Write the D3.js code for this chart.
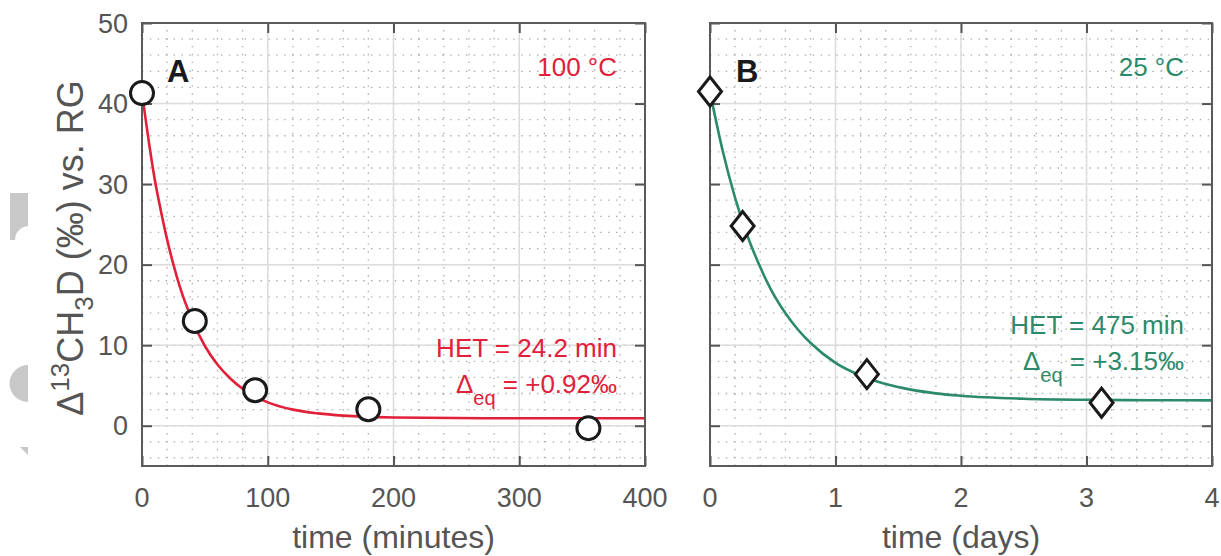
<!DOCTYPE html>
<html>
<head>
<meta charset="utf-8">
<title>Clumped isotope equilibration</title>
<script src="https://d3js.org/d3.v7.min.js"></script>
<style>
  html, body { margin: 0; padding: 0; background: #fff; }
  svg { display: block; font-family: "Liberation Sans", Arial, sans-serif; }
</style>
</head>
<body>
<svg id="chart" width="1221" height="556"></svg>
<script>
// panel A : 100 C, minutes
const timeA = [0, 42, 90, 180, 355];
const valA = [41.3, 13.0, 4.4, 2.05, -0.3];
const fitTimeA = [0, 5, 10, 15, 20, 25, 30, 40, 50, 60, 70, 80, 100, 120, 140, 160, 200, 250, 300, 400];
const fitValA = [41.3, 35.7, 30.7, 26.7, 23.1, 20.0, 17.3, 13.1, 9.9, 7.6, 5.9, 4.6, 2.9, 2.0, 1.53, 1.25, 1.02, 0.95, 0.93, 0.92];

// panel B : 25 C, days
const timeB = [0, 0.26, 1.25, 3.12];
const valB = [41.5, 24.8, 6.4, 2.85];
const fitTimeB = [0, 0.1, 0.2, 0.3, 0.4, 0.5, 0.6, 0.7, 0.8, 1.0, 1.2, 1.4, 1.6, 1.8, 2.0, 2.5, 3.0, 3.5, 4.0];
const fitValB = [41.45, 34.2, 28.3, 23.5, 19.7, 16.5, 14.0, 11.95, 10.3, 7.8, 6.23, 5.17, 4.48, 4.02, 3.72, 3.35, 3.22, 3.17, 3.15];

const yTicks = [0, 10, 20, 30, 40, 50];
const xTicksA = [0, 100, 200, 300, 400];
const xTicksB = [0, 1, 2, 3, 4];

const red = "#e1203a", green = "#2b8a69", ink = "#555";
const svg = d3.select("#chart");

// stray grey marks on the left edge of the scan
const edge = svg.append("g").attr("fill", "#c8c8c8");
edge.append("path").attr("d", "M10,193H28V226A14,14 0 0 0 15,240H10Z");
edge.append("path").attr("d", "M28,365A18.5,18.5 0 0 0 28,402Z");
edge.append("path").attr("d", "M20,447H28V455Z");

const y = d3.scaleLinear().domain([-5, 50]).range([466, 23]);

function panel(opts) {
  const x = d3.scaleLinear().domain(opts.domain).range(opts.range);
  const g = svg.append("g");
  const [x0, x1] = opts.range;

  // minor dotted grid
  g.append("g").selectAll("line").data(d3.range(opts.domain[0], opts.domain[1] + 1e-9, opts.minor))
    .join("line")
    .attr("x1", d => x(d)).attr("x2", d => x(d)).attr("y1", y(-5)).attr("y2", y(50))
    .attr("stroke", "#ababab").attr("stroke-width", 1.3).attr("stroke-dasharray", "1.4,6.5");
  g.append("g").selectAll("line").data(d3.range(-4, 50, 2))
    .join("line")
    .attr("x1", x0).attr("x2", x1).attr("y1", d => y(d)).attr("y2", d => y(d))
    .attr("stroke", "#ababab").attr("stroke-width", 1.3).attr("stroke-dasharray", "1.4,6.5");

  // major grid
  g.append("g").selectAll("line").data(opts.ticks)
    .join("line")
    .attr("x1", d => x(d)).attr("x2", d => x(d)).attr("y1", y(-5)).attr("y2", y(50))
    .attr("stroke", "#dcdcdc").attr("stroke-width", 1.5);
  g.append("g").selectAll("line").data(yTicks)
    .join("line")
    .attr("x1", x0).attr("x2", x1).attr("y1", d => y(d)).attr("y2", d => y(d))
    .attr("stroke", "#dcdcdc").attr("stroke-width", 1.5);

  // fitted curve
  const pts = opts.fitT.map((t, i) => [t, opts.fitV[i]]);
  g.append("path").datum(pts)
    .attr("fill", "none").attr("stroke", opts.color).attr("stroke-width", 2.6)
    .attr("d", d3.line().x(d => x(d[0])).y(d => y(d[1])).curve(d3.curveMonotoneX));

  // axes with inward ticks on all four sides
  const axis = (gen, tr) => g.append("g").attr("transform", tr).call(gen)
    .call(a => a.select(".domain").remove())
    .call(a => a.selectAll("line").attr("stroke", "#555").attr("stroke-width", 2))
    .call(a => a.selectAll("text").remove());
  axis(d3.axisBottom(x).tickValues(opts.ticks).tickSize(-10), `translate(0,${y(-5)})`);
  axis(d3.axisTop(x).tickValues(opts.ticks).tickSize(-10), `translate(0,${y(50)})`);
  axis(d3.axisLeft(y).tickValues(yTicks).tickSize(-10), `translate(${x0},0)`);
  axis(d3.axisRight(y).tickValues(yTicks).tickSize(-10), `translate(${x1},0)`);

  g.append("rect").attr("x", x0).attr("y", y(50)).attr("width", x1 - x0).attr("height", y(-5) - y(50))
    .attr("fill", "none").attr("stroke", "#5a5a5a").attr("stroke-width", 2);

  // tick labels
  g.append("g").selectAll("text").data(opts.ticks).join("text")
    .attr("x", d => x(d)).attr("y", 507).attr("text-anchor", "middle")
    .attr("font-size", 27).attr("fill", ink).text(d => d);
  if (opts.yLabels) {
    g.append("g").selectAll("text").data(yTicks).join("text")
      .attr("x", 128).attr("y", d => y(d) + 9.5).attr("text-anchor", "end")
      .attr("font-size", 27).attr("fill", ink).text(d => d);
  }
  g.append("text").attr("x", (x0 + x1) / 2).attr("y", 548).attr("text-anchor", "middle")
    .attr("font-size", 32).attr("fill", ink).text(opts.xTitle);

  // data markers
  const mk = g.append("g").attr("fill", "#fff").attr("stroke", "#1a1a1a").attr("stroke-width", 3);
  const data = opts.t.map((t, i) => [t, opts.v[i]]);
  if (opts.marker === "circle") {
    mk.selectAll("circle").data(data).join("circle")
      .attr("cx", d => x(d[0])).attr("cy", d => y(d[1])).attr("r", 11.5);
  } else {
    mk.selectAll("path").data(data).join("path")
      .attr("d", d => `M${x(d[0])},${y(d[1]) - 14.5}l11.5,14.5l-11.5,14.5l-11.5,-14.5Z`);
  }

  // annotations
  g.append("text").attr("x", opts.letterX).attr("y", 82).attr("font-size", 31).attr("font-weight", "bold")
    .attr("fill", "#1a1a1a").text(opts.letter);
  g.append("text").attr("x", opts.annX).attr("y", 76).attr("text-anchor", "end")
    .attr("font-size", 26).attr("fill", opts.color).text(opts.temp);
  g.append("text").attr("x", opts.annX).attr("y", opts.hetY).attr("text-anchor", "end")
    .attr("font-size", 26).attr("fill", opts.color).text(opts.het);
  const eq = g.append("text").attr("x", opts.annX).attr("y", opts.hetY + 36).attr("text-anchor", "end")
    .attr("font-size", 26).attr("fill", opts.color);
  eq.append("tspan").text("\u0394");
  eq.append("tspan").attr("dy", 12).attr("font-size", 20).text("eq");
  eq.append("tspan").attr("dy", -12).text(" = " + opts.deq);
}

panel({
  domain: [0, 400], range: [142, 645], ticks: xTicksA, minor: 20,
  fitT: fitTimeA, fitV: fitValA, t: timeA, v: valA, marker: "circle",
  color: red, yLabels: true, xTitle: "time (minutes)",
  letter: "A", letterX: 167, annX: 617, temp: "100 \u00b0C",
  het: "HET = 24.2 min", hetY: 357, deq: "+0.92\u2030"
});
panel({
  domain: [0, 4], range: [710, 1212], ticks: xTicksB, minor: 0.2,
  fitT: fitTimeB, fitV: fitValB, t: timeB, v: valB, marker: "diamond",
  color: green, yLabels: false, xTitle: "time (days)",
  letter: "B", letterX: 736, annX: 1184, temp: "25 \u00b0C",
  het: "HET = 475 min", hetY: 334, deq: "+3.15\u2030"
});

// y axis title
const yt = svg.append("text").attr("transform", "translate(83,248) rotate(-90)")
  .attr("text-anchor", "middle").attr("font-size", 36).attr("fill", ink);
yt.append("tspan").text("\u0394");
yt.append("tspan").attr("dy", -14).attr("font-size", 26).text("13");
yt.append("tspan").attr("dy", 14).text("CH");
yt.append("tspan").attr("dy", 10).attr("font-size", 26).text("3");
yt.append("tspan").attr("dy", -10).text("D (\u2030) vs. RG");
</script>
</body>
</html>
